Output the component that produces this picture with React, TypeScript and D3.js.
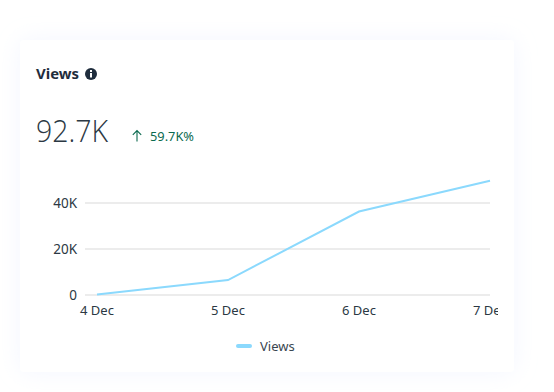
import React from "react";
import * as d3 from "d3";

const categories = ["4 Dec", "5 Dec", "6 Dec", "7 Dec"];
const viewsValues = [200, 6500, 36300, 49700];
const yTicks = [0, 20000, 40000];
const seriesName = "Views";
const titleText = "Views";
const bigNumber = "92.7K";
const deltaText = "59.7K%";

const FONT = "'Noto Sans', 'Open Sans', sans-serif";

export default function App() {
  const x = d3.scalePoint<string>().domain(categories).range([97, 490]);
  const y = d3.scaleLinear().domain([0, 40000]).range([295, 203]);
  const line = d3
    .line<number>()
    .x((_, i) => x(categories[i]) as number)
    .y((d) => y(d));
  const fmt = (v: number) => (v === 0 ? "0" : `${v / 1000}K`);
  return (
    <svg
      width={554}
      height={392}
      style={{ position: "absolute", left: 0, top: 0, background: "#fff" }}
      fontFamily={FONT}
    >
      <defs>
        <filter id="sh" x="-10%" y="-10%" width="120%" height="120%">
          <feDropShadow dx="0" dy="0" stdDeviation="12" floodColor="#e6ebff" floodOpacity="0.45" />
        </filter>
        <clipPath id="clip">
          <rect x={0} y={0} width={498} height={392} />
        </clipPath>
      </defs>
      <rect x={20} y={40} width={494} height={332} rx={4} fill="#fff" filter="url(#sh)" />

      <text x={36} y={79} fontSize={14.5} fontWeight={700} fill="#1f2d3d" textLength={43} lengthAdjust="spacingAndGlyphs">{titleText}</text>
      <circle cx={91} cy={74} r={6} fill="#1f2d3d" />
      <rect x={90} y={73} width={2} height={4.5} fill="#fff" />
      <rect x={90} y={70} width={2} height={2} fill="#fff" />

      <text x={36} y={142} fontSize={31} fontWeight={300} fill="#2b3843" fontFamily="'Open Sans', sans-serif" textLength={72} lengthAdjust="spacingAndGlyphs">{bigNumber}</text>
      <path d="M137 141.5V130.5M132.8 134.8L137 130.5L141.2 134.8" fill="none" stroke="#0b6a4f" strokeWidth={1.1} />
      <text x={150} y={141} fontSize={13} fill="#0b6a4f" textLength={44} lengthAdjust="spacingAndGlyphs">{deltaText}</text>

      {yTicks.map((t) => (
        <g key={t}>
          <line x1={85} x2={490} y1={y(t)} y2={y(t)} stroke="#ececec" strokeWidth={2} />
          <text x={77} y={y(t) + 5} textAnchor="end" fontSize={13.5} fill="#2b3843">{fmt(t)}</text>
        </g>
      ))}

      <path d={line(viewsValues) ?? ""} fill="none" stroke="#8bd9fd" strokeWidth={2} />

      <g clipPath="url(#clip)">
        {categories.map((c) => (
          <text key={c} x={x(c) as number} y={315} textAnchor="middle" fontSize={13} fill="#2b3843">{c}</text>
        ))}
      </g>

      <rect x={236} y={344} width={16} height={4} rx={2} fill="#8bd9fd" />
      <text x={260} y={351} fontSize={13} fill="#3a4650">{seriesName}</text>
    </svg>
  );
}
